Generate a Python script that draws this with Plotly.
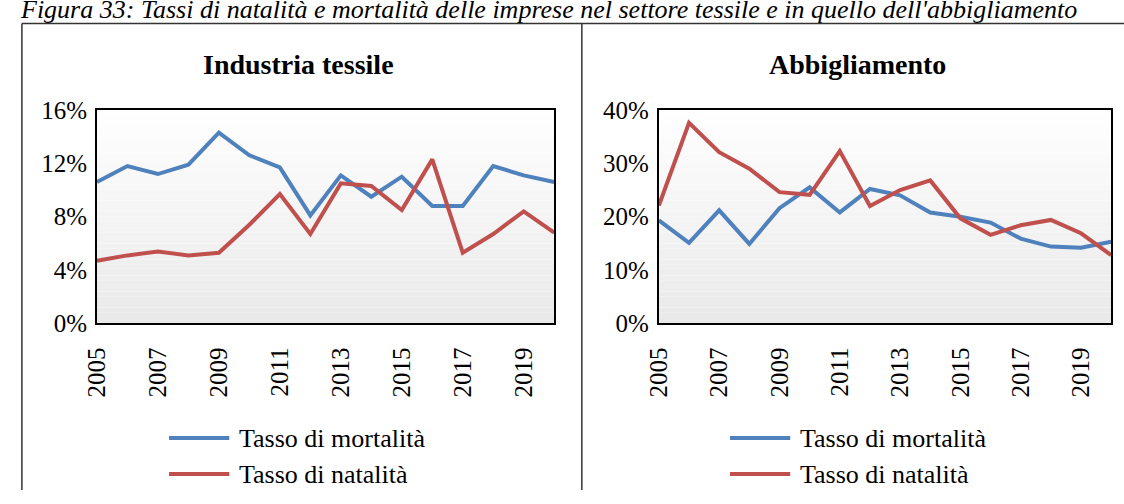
import plotly.graph_objects as go

# Birth and death rates of firms (%), textile industry and clothing
years = list(range(2005, 2021))
tick_years = list(range(2005, 2020, 2))

tessile_mortalita = [10.6, 11.8, 11.2, 11.9, 14.3, 12.6, 11.7, 8.1, 11.1, 9.5, 11.0, 8.8, 8.8, 11.8, 11.1, 10.6]
tessile_natalita = [4.7, 5.1, 5.4, 5.1, 5.3, 7.4, 9.7, 6.7, 10.5, 10.3, 8.5, 12.3, 5.3, 6.7, 8.4, 6.8]
abbigliamento_mortalita = [19.3, 15.1, 21.2, 14.9, 21.6, 25.5, 20.8, 25.2, 24.0, 20.8, 20.0, 18.9, 15.9, 14.4, 14.2, 15.3]
abbigliamento_natalita = [22.1, 37.6, 32.1, 29.0, 24.6, 24.1, 32.3, 22.0, 25.0, 26.8, 19.7, 16.6, 18.4, 19.4, 16.9, 12.8]

panel_titles = ["Industria tessile", "Abbigliamento"]
series_names = ["Tasso di mortalità", "Tasso di natalità"]
caption = ("Figura 33: Tassi di natalità e mortalità delle imprese nel settore "
           "tessile e in quello dell'abbigliamento")

W, H = 1124, 504
BLUE = "#4F81BD"
RED = "#C0504D"
SERIF = "Liberation Serif"


def px(x):
    return x / W


def py(y):
    return 1 - y / H


fig = go.Figure()

panels = [
    dict(xa="x", ya="y", xd=(84, 547), yr=(0, 16), dt=4,
         mort=tessile_mortalita, nat=tessile_natalita),
    dict(xa="x2", ya="y2", xd=(653, 1111), yr=(0, 40), dt=10,
         mort=abbigliamento_mortalita, nat=abbigliamento_natalita),
]

for p in panels:
    fig.add_trace(go.Scatter(x=years, y=p["mort"], mode="lines", name=series_names[0],
                             line=dict(color=BLUE, width=4), xaxis=p["xa"], yaxis=p["ya"],
                             showlegend=False))
    fig.add_trace(go.Scatter(x=years, y=p["nat"], mode="lines", name=series_names[1],
                             line=dict(color=RED, width=4), xaxis=p["xa"], yaxis=p["ya"],
                             showlegend=False))

axis_common = dict(showgrid=False, zeroline=False, showline=True, mirror=True,
                   linecolor="black", linewidth=2, ticks="",
                   tickfont=dict(family=SERIF, size=25, color="black"))

y_dom = [py(328), py(102.5)]
layout_axes = {}
for i, p in enumerate(panels):
    sfx = "" if i == 0 else str(i + 1)
    layout_axes["xaxis" + sfx] = dict(
        axis_common, domain=[px(p["xd"][0]), px(p["xd"][1])], range=[2005, 2020],
        tickvals=tick_years, ticktext=[str(t) for t in tick_years], tickangle=-90,
        ticklabelstandoff=12, anchor="y" + sfx)
    layout_axes["yaxis" + sfx] = dict(
        axis_common, domain=y_dom, range=list(p["yr"]), dtick=p["dt"], tick0=0,
        ticksuffix="%", ticklabelstandoff=3, anchor="x" + sfx)

shapes = []
# vertical white-to-grey gradient inside each plot area
n_bands = 40
for i, p in enumerate(panels):
    sfx = "" if i == 0 else str(i + 1)
    for k in range(n_bands):
        t = (k + 0.5) / n_bands  # 0 at bottom, 1 at top
        g = int(round(233 + (255 - 233) * t))
        shapes.append(dict(type="rect", xref="x" + sfx + " domain", yref="y" + sfx + " domain",
                           x0=0, x1=1, y0=k / n_bands, y1=(k + 1) / n_bands,
                           fillcolor=f"rgb({g},{g},{g})", line=dict(width=0), layer="below"))

# panel frames
frame = dict(color="#333333", width=1.5)
shapes += [
    dict(type="line", xref="paper", yref="paper", x0=px(8), x1=px(1124), y0=py(11), y1=py(11), line=frame),
    dict(type="line", xref="paper", yref="paper", x0=px(8), x1=px(8), y0=py(11), y1=py(504), line=frame),
    dict(type="line", xref="paper", yref="paper", x0=px(575), x1=px(575), y0=py(11), y1=py(504), line=frame),
]

annotations = [
    dict(text=f"<i>{caption}</i>", xref="paper", yref="paper", x=px(4), y=py(-3.3), xanchor="left",
         yanchor="middle", showarrow=False, font=dict(family=SERIF, size=26, color="black")),
]

title_centers = [288, 854]
for title, cx in zip(panel_titles, title_centers):
    annotations.append(dict(text=f"<b>{title}</b>", xref="paper", yref="paper", x=px(cx), y=py(54.5),
                            xanchor="center", yanchor="middle", showarrow=False,
                            font=dict(family=SERIF, size=28, color="black")))

# legends drawn under each panel
legend_x = [157, 725]
legend_rows = [(449, BLUE, series_names[0]), (487, RED, series_names[1])]
for lx in legend_x:
    for ly, col, name in legend_rows:
        shapes.append(dict(type="line", xref="paper", yref="paper", x0=px(lx), x1=px(lx + 61),
                           y0=py(ly), y1=py(ly), line=dict(color=col, width=4)))
        annotations.append(dict(text=name, xref="paper", yref="paper", x=px(lx + 69), y=py(ly + 1),
                                xanchor="left", yanchor="middle", showarrow=False,
                                font=dict(family=SERIF, size=26, color="black")))

fig.update_layout(
    width=W, height=H, margin=dict(l=0, r=0, t=0, b=0),
    paper_bgcolor="white", plot_bgcolor="white",
    shapes=shapes, annotations=annotations, showlegend=False,
    **layout_axes,
)

fig.write_html("out.html")
